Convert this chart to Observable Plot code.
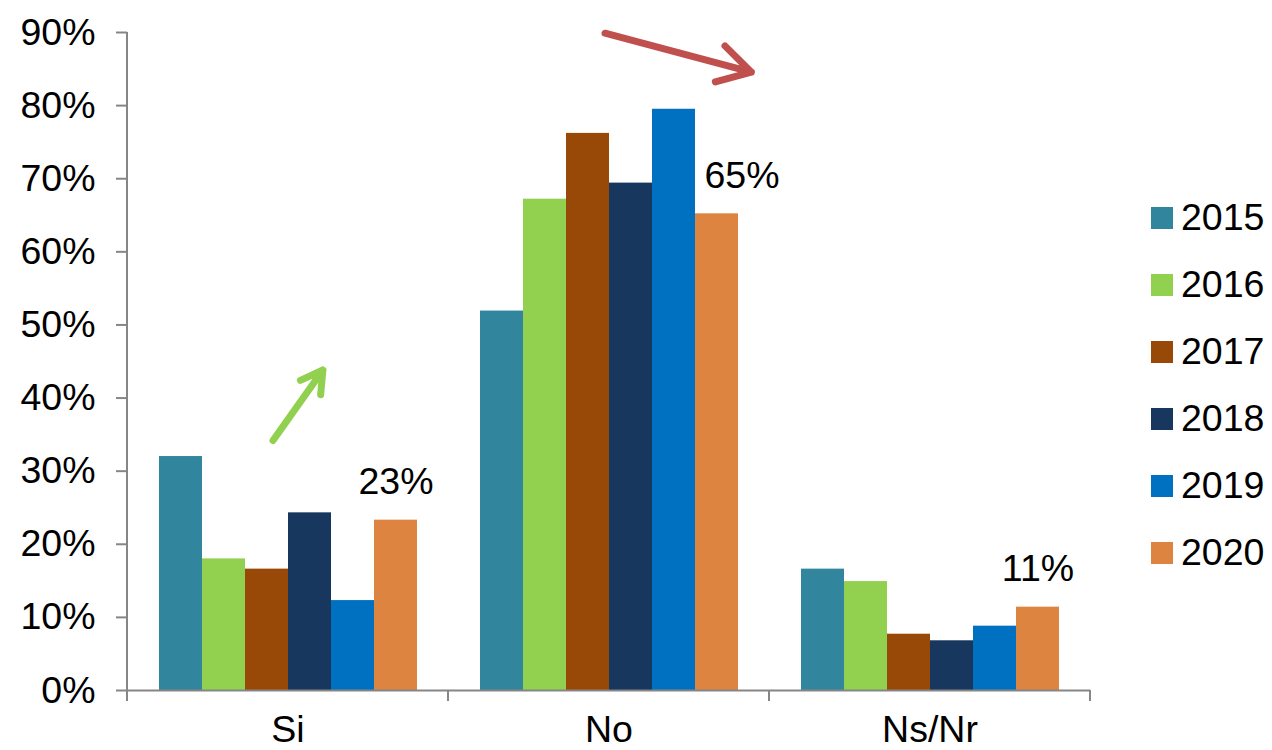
<!DOCTYPE html>
<html><head><meta charset="utf-8">
<script src="https://cdn.jsdelivr.net/npm/d3@7"></script>
<script src="https://cdn.jsdelivr.net/npm/@observablehq/plot@0.6"></script>
<style>
body{margin:0;background:#fff;font-family:"Liberation Sans",Arial,sans-serif;}
#wrap{position:relative;width:1272px;height:750px;overflow:hidden;}
#chart{position:absolute;left:0;top:0;}
#legend{position:absolute;left:1151px;top:184px;}
.item{display:flex;align-items:center;height:67px;font-size:37.5px;color:#000;}
.sw{width:22px;height:22px;margin-right:8px;flex:none;}
</style></head><body>
<div id="wrap"><div id="chart"></div><div id="legend"></div></div>
<script>
// ---- data ----
const categories = ["Si", "No", "Ns/Nr"];
const years = ["2015", "2016", "2017", "2018", "2019", "2020"];
const colors = ["#31859C", "#92D050", "#984807", "#17375E", "#0070C0", "#DD8441"];
const v2015 = [32.0, 51.9, 16.6];
const v2016 = [18.0, 67.2, 14.9];
const v2017 = [16.6, 76.2, 7.7];
const v2018 = [24.3, 69.4, 6.8];
const v2019 = [12.3, 79.5, 8.8];
const v2020 = [23.3, 65.2, 11.4];
const yTicks = [0, 10, 20, 30, 40, 50, 60, 70, 80, 90];
const labelTexts = ["23%", "65%", "11%"];
// trend arrows (category, from-year, to-year, from %, to %)
const upArrow = [{cat: "Si", from: "2017", to: "2018", y1: 34.2, y2: 42.5}];
const downArrow = [{cat: "No", from: "2017", to: "2020", y1: 89.9, y2: 85.2}];

const series = [v2015, v2016, v2017, v2018, v2019, v2020];
const rows = [];
years.forEach((yr, i) => categories.forEach((c, j) => rows.push({cat: c, year: yr, value: series[i][j]})));
const labelRows = categories.map((c, j) => ({cat: c, year: "2020", value: v2020[j], label: labelTexts[j]}));

const axisGray = "#868686";
const chart = Plot.plot({
  width: 1100,
  height: 750,
  marginLeft: 126,
  marginRight: 10,
  marginTop: 32,
  marginBottom: 60,
  style: {fontFamily: "'Liberation Sans', Arial, sans-serif", fontSize: "37.5px", color: "#000", background: "white", overflow: "visible"},
  fx: {domain: categories, padding: 0, label: null},
  x: {domain: years, paddingInner: 0, paddingOuter: 0.72, axis: null},
  y: {domain: [0, 90], label: null},
  color: {domain: years, range: colors},
  marks: [
    Plot.barY(rows, {fx: "cat", x: "year", y: "value", fill: "year"}),
    Plot.ruleY([0], {stroke: axisGray, strokeWidth: 2}),
    Plot.axisY({ticks: yTicks, tickFormat: d => d + "%", tickSize: 11, tickPadding: 21, stroke: axisGray, strokeWidth: 2, fill: "#000", label: null}),
    Plot.axisFx({anchor: "bottom", tickSize: 0, tickPadding: 25, fill: "#000", label: null}),
    Plot.text(labelRows.filter(d => d.cat !== "No"), {fx: "cat", x: "year", y: "value", text: "label", dy: -26, lineAnchor: "bottom", fill: "#000"}),
    Plot.text(labelRows.filter(d => d.cat === "No"), {fx: "cat", x: "year", y: "value", text: "label", dy: -26, dx: 25, lineAnchor: "bottom", fill: "#000"}),
    Plot.arrow(upArrow, {fx: "cat", x1: "from", x2: "to", y1: "y1", y2: "y2", stroke: "#92D050", strokeWidth: 7, dx: 6, insetEnd: -12}),
    Plot.arrow(downArrow, {fx: "cat", x1: "from", x2: "to", y1: "y1", y2: "y2", stroke: "#C0504D", strokeWidth: 7, dx: 17, insetEnd: -18})
  ]
});
document.getElementById("chart").appendChild(chart);

// y-axis line and category boundary ticks, from Plot's own scales
const fx = chart.scale("fx"), ys = chart.scale("y");
const g = d3.select(chart).append("g").attr("stroke", axisGray).attr("stroke-width", 2);
const left = fx.apply(categories[0]);
g.append("line").attr("x1", left).attr("x2", left).attr("y1", ys.apply(90)).attr("y2", ys.apply(0));
const bounds = categories.map(c => fx.apply(c)).concat([fx.apply(categories[categories.length - 1]) + fx.bandwidth]);
bounds.forEach(b => g.append("line").attr("x1", b).attr("x2", b).attr("y1", ys.apply(0)).attr("y2", ys.apply(0) + 11));

// legend
const leg = document.getElementById("legend");
years.forEach((yr, i) => {
  const it = document.createElement("div"); it.className = "item";
  const sw = document.createElement("div"); sw.className = "sw"; sw.style.background = colors[i];
  const t = document.createElement("span"); t.textContent = yr;
  it.appendChild(sw); it.appendChild(t); leg.appendChild(it);
});
</script>
</body></html>
